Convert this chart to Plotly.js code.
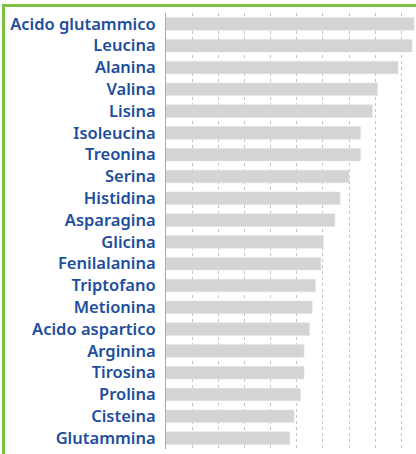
<!DOCTYPE html>
<html>
<head>
<meta charset="utf-8">
<script src="https://cdn.plot.ly/plotly-3.0.1.min.js"></script>
<style>
html,body{margin:0;padding:0;background:#fff;overflow:hidden;width:416px;height:454px;}
#frame{position:absolute;left:2px;top:4px;width:600px;height:600px;border-left:3px solid #7cc242;border-top:3px solid #7cc242;box-sizing:border-box;}
#chart{position:absolute;left:0;top:0;width:416px;height:454px;}
</style>
</head>
<body>
<div id="frame"></div>
<div id="chart"></div>
<script>
const categories = ["Acido glutammico","Leucina","Alanina","Valina","Lisina","Isoleucina","Treonina","Serina","Histidina","Asparagina","Glicina","Fenilalanina","Triptofano","Metionina","Acido aspartico","Arginina","Tirosina","Prolina","Cisteina","Glutammina"];
const values = [9.49,9.41,8.87,8.09,7.89,7.44,7.44,7.00,6.66,6.46,6.02,5.92,5.72,5.59,5.49,5.28,5.28,5.14,4.90,4.73];

const trace = {
  type: 'bar',
  orientation: 'h',
  y: categories,
  x: values,
  marker: {color: '#d4d4d4', line: {color: '#e2e2e2', width: 0.5}},
  hoverinfo: 'none'
};
const layout = {
  width: 416, height: 454,
  margin: {l: 166, r: 0, t: 13, b: 5},
  paper_bgcolor: 'rgba(0,0,0,0)',
  plot_bgcolor: 'rgba(0,0,0,0)',
  bargap: 0.42,
  showlegend: false,
  xaxis: {
    range: [0, 9.56], dtick: 1, tick0: 0,
    showgrid: true, gridcolor: '#c4c4c4', griddash: 'dot', gridwidth: 1,
    zeroline: false, showticklabels: false, ticks: '', fixedrange: true
  },
  yaxis: {
    autorange: 'reversed',
    showline: true, linecolor: '#a8a8a8', linewidth: 1,
    showgrid: false, zeroline: false, ticks: '',
    ticklabelstandoff: 6,
    tickfont: {family: 'Noto Sans', size: 16.5, color: '#1d4e9c', weight: 600}
  }
};
Plotly.newPlot('chart', [trace], layout, {staticPlot: true, displayModeBar: false});
</script>
</body>
</html>
